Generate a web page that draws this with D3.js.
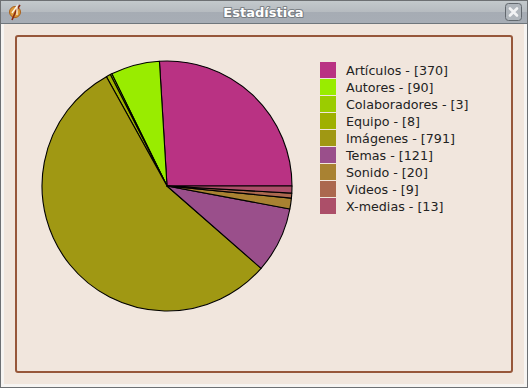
<!DOCTYPE html>
<html>
<head>
<meta charset="utf-8">
<script src="https://cdnjs.cloudflare.com/ajax/libs/d3/7.8.5/d3.min.js"></script>
<style>
html, body { margin: 0; padding: 0; background: #f1e6dd; }
svg { display: block; }
text { font-family: "DejaVu Sans", sans-serif; }
</style>
</head>
<body>
<script>
var categories = ['Artículos', 'Autores', 'Colaboradores', 'Equipo', 'Imágenes', 'Temas', 'Sonido', 'Videos', 'X-medias']
var counts = [370, 90, 3, 8, 791, 121, 20, 9, 13]
var colors = ['#b93283', '#99ec00', '#9bcc00', '#9fb000', '#a09813', '#9a4f8b', '#a98232', '#ab684f', '#ac4f69']
var windowTitle = 'Estadística'

var width = 528,
    height = 388,
    pieCenter = { x: 167, y: 186 },
    radius = 125;

var svg = d3.select('body').append('svg')
    .attr('width', width)
    .attr('height', height)

var defs = svg.append('defs')
var grad = defs.append('linearGradient')
    .attr('id', 'titleGrad')
    .attr('x1', 0).attr('y1', 0).attr('x2', 0).attr('y2', 1)
grad.selectAll('stop')
    .data([[0, '#c3c9cc'], [0.5, '#b6bbc0'], [0.5, '#a6acb4'], [1, '#a7adb5']])
    .enter().append('stop')
    .attr('offset', d => d[0])
    .attr('stop-color', d => d[1])

// window frame
svg.append('rect').attr('width', width).attr('height', height).attr('fill', '#6d7073')
svg.append('rect').attr('x', 1).attr('y', 1).attr('width', width - 2).attr('height', height - 2).attr('fill', '#f6f4f2')
svg.append('rect').attr('x', 4).attr('y', 24).attr('width', width - 8).attr('height', height - 28).attr('fill', '#f1e6dd')

// title bar
svg.append('rect').attr('x', 1).attr('y', 1).attr('width', width - 2).attr('height', 22).attr('fill', 'url(#titleGrad)')
svg.append('line').attr('x1', 1).attr('x2', width - 1).attr('y1', 23.5).attr('y2', 23.5).attr('stroke', '#6f767c')

svg.append('text')
    .attr('x', 263.5).attr('y', 17)
    .attr('text-anchor', 'middle')
    .attr('font-size', 13)
    .attr('font-weight', 'bold')
    .attr('fill', '#555a5f')
    .attr('stroke', '#555a5f')
    .attr('stroke-width', 2)
    .attr('stroke-linejoin', 'round')
    .attr('opacity', 0.6)
    .text(windowTitle)
svg.append('text')
    .attr('x', 263.5).attr('y', 17)
    .attr('text-anchor', 'middle')
    .attr('font-size', 13)
    .attr('font-weight', 'bold')
    .attr('fill', '#ffffff')
    .text(windowTitle)

// app icon
var icon = svg.append('g').attr('transform', 'translate(15,12)')
icon.append('circle').attr('r', 5.5).attr('fill', '#dd9a3a').attr('stroke', '#a9601c')
icon.append('path').attr('d', d3.line()([[-3, 8], [1, -1], [5, -7]])).attr('fill', 'none').attr('stroke', '#8a2a14').attr('stroke-width', 1.6)
icon.append('path').attr('d', d3.line()([[-3, 1], [2, -6], [2, 3]])).attr('fill', 'none').attr('stroke', '#fbf3e4').attr('stroke-width', 1.3)

// close button
var closeBtn = svg.append('g').attr('transform', 'translate(513.5,12)')
closeBtn.append('rect')
    .attr('x', -8).attr('y', -8.5).attr('width', 16).attr('height', 17).attr('rx', 3)
    .attr('fill', '#b0b6bc').attr('stroke', '#62686e')
closeBtn.append('path')
    .attr('d', 'M-3.5,-3.5L3.5,3.5M3.5,-3.5L-3.5,3.5')
    .attr('stroke', '#f2f3f4').attr('stroke-width', 2.6).attr('stroke-linecap', 'round')

// panel border
svg.append('rect')
    .attr('x', 16).attr('y', 36).attr('width', 496).attr('height', 336).attr('rx', 2)
    .attr('fill', 'none')
    .attr('stroke', '#97573a')
    .attr('stroke-width', 2)

// pie runs counter clockwise starting from the east
var pie = d3.pie()
    .sort(null)
    .startAngle(Math.PI / 2)
    .endAngle(Math.PI / 2 - 2 * Math.PI)
var arc = d3.arc().innerRadius(0).outerRadius(radius)
var slices = pie(counts)

svg.append('g')
    .attr('transform', `translate(${pieCenter.x},${pieCenter.y})`)
    .selectAll('path')
    .data(slices)
    .enter().append('path')
    .attr('d', arc)
    .attr('fill', (d, i) => colors[i])
    .attr('stroke', '#000')
    .attr('stroke-width', 1.1)
    .attr('stroke-linejoin', 'round')

// legend
var legendY = d3.scaleBand().domain(categories).range([62, 215])
var legend = svg.append('g')
legend.selectAll('rect')
    .data(categories)
    .enter().append('rect')
    .attr('x', 320)
    .attr('y', d => legendY(d))
    .attr('width', 16)
    .attr('height', legendY.bandwidth() - 1)
    .attr('fill', (d, i) => colors[i])
legend.selectAll('text')
    .data(categories)
    .enter().append('text')
    .attr('x', 346)
    .attr('y', d => legendY(d) + 13)
    .attr('font-size', 12.7)
    .attr('fill', '#222')
    .text((d, i) => d + ' - [' + counts[i] + ']')
</script>
</body>
</html>
